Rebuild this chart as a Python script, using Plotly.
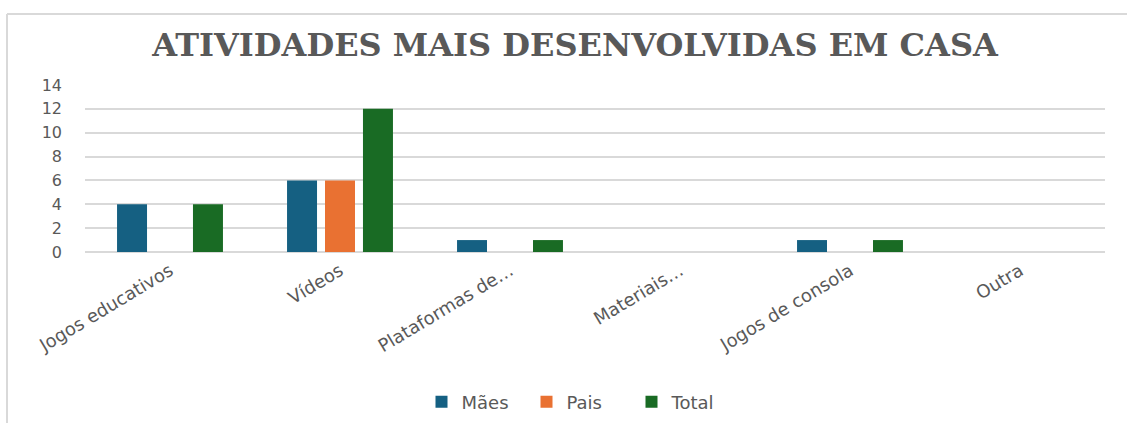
import plotly.graph_objects as go

categories = ["Jogos educativos", "Vídeos", "Plataformas de…", "Materiais…", "Jogos de consola", "Outra"]
maes = [4, 6, 1, 0, 1, 0]
pais = [0, 6, 0, 0, 0, 0]
total = [4, 12, 1, 0, 1, 0]
series_names = ["Mães", "Pais", "Total"]
colors = ["#156082", "#E97132", "#196B24"]
y_ticks = [0, 2, 4, 6, 8, 10, 12, 14]

fig = go.Figure()
for name, vals, col in zip(series_names, [maes, pais, total], colors):
    fig.add_trace(go.Bar(x=categories, y=vals, name=name, marker_color=col,
                         marker_line_width=0))

W, H = 1127, 423
ml, mr, mt, mb = 85, 22, 85, 171
pw, ph = W - ml - mr, H - mt - mb

def px_to_paper_x(px):
    return (px - ml) / pw

def px_to_paper_y(py):
    return (H - mb - py) / ph

fig.update_layout(
    width=W, height=H,
    margin=dict(l=ml, r=mr, t=mt, b=mb, autoexpand=False),
    paper_bgcolor="white", plot_bgcolor="white",
    barmode="group", bargap=0.33, bargroupgap=0.21,
    title=dict(text="<b>ATIVIDADES MAIS DESENVOLVIDAS EM CASA</b>",
               x=px_to_paper_x(575), xref="paper", xanchor="center",
               y=1 - 45 / H, yanchor="middle",
               font=dict(family="DejaVu Serif", size=32, color="#595959")),
    font=dict(family="DejaVu Sans", color="#595959"),
    showlegend=True,
    legend=dict(orientation="h", x=px_to_paper_x(579), xanchor="center",
                y=px_to_paper_y(402), yanchor="middle",
                font=dict(family="DejaVu Sans", size=18, color="#595959"),
                itemwidth=30, entrywidth=60, traceorder="normal"),
    xaxis=dict(tickangle=-31, tickfont=dict(family="DejaVu Sans", size=18, color="#595959"),
               showline=False, showgrid=False, ticks="", automargin=False,
               ticklabelstandoff=4),
    yaxis=dict(range=[0, 14], tickvals=y_ticks, showgrid=True, gridcolor="#d9d9d9",
               gridwidth=1.5, zeroline=True, zerolinecolor="#d9d9d9", zerolinewidth=1.5,
               tickfont=dict(family="DejaVu Sans", size=16, color="#595959"),
               ticklabelstandoff=22, showline=False, automargin=False),
    shapes=[
        dict(type="line", xref="paper", yref="paper",
             x0=px_to_paper_x(7), x1=px_to_paper_x(7),
             y0=px_to_paper_y(14), y1=px_to_paper_y(440),
             line=dict(color="#d9d9d9", width=2)),
        dict(type="line", xref="paper", yref="paper",
             x0=px_to_paper_x(7), x1=px_to_paper_x(1140),
             y0=px_to_paper_y(14), y1=px_to_paper_y(14),
             line=dict(color="#d9d9d9", width=2)),
    ],
)

fig.write_html("out.html", config={"displayModeBar": False},
               post_script="document.body.style.margin='0px';")
